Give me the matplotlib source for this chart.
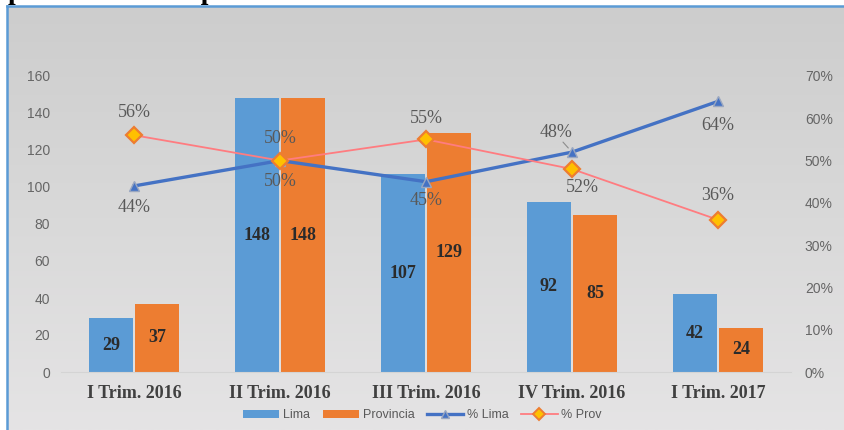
import matplotlib
matplotlib.use('Agg')
import matplotlib.pyplot as plt
import numpy as np
from matplotlib.patches import Patch
from matplotlib.lines import Line2D
from matplotlib.colors import LinearSegmentedColormap

# ---------------- data ----------------
categories = ['I Trim. 2016', 'II Trim. 2016', 'III Trim. 2016', 'IV Trim. 2016', 'I Trim. 2017']
lima = [29, 148, 107, 92, 42]
provincia = [37, 148, 129, 85, 24]
pct_lima = [0.44, 0.50, 0.45, 0.52, 0.64]
pct_prov = [0.56, 0.50, 0.55, 0.48, 0.36]
pct_lima_labels = ['44%', '50%', '45%', '52%', '64%']
pct_prov_labels = ['56%', '50%', '55%', '48%', '36%']
left_ticks = [0, 20, 40, 60, 80, 100, 120, 140, 160]
right_ticks = [0.0, 0.1, 0.2, 0.3, 0.4, 0.5, 0.6, 0.7]
right_tick_labels = ['0%', '10%', '20%', '30%', '40%', '50%', '60%', '70%']
legend_labels = ['Lima', 'Provincia', '% Lima', '% Prov']
title = 'procedencia del proceso de selección'

# ---------------- style ----------------
W, H = 845, 430
C_BLUE = '#5b9bd5'
C_ORANGE = '#ed7d31'
C_LLINE = '#4472c4'
C_PLINE = '#ff7c80'
SERIF = ['Liberation Serif', 'DejaVu Serif']
SANS = ['Liberation Sans', 'DejaVu Sans']

fig = plt.figure(figsize=(W / 100, H / 100), dpi=100)
fig.patch.set_facecolor('white')

# background panel with gradient and blue border
bg = fig.add_axes([7 / W, 0, 1 - 7 / W, (H - 6) / H], zorder=0)
grad = np.linspace(0, 1, 256).reshape(-1, 1)
cmap = LinearSegmentedColormap.from_list('bg', ['#cdcdcd', '#d9d9d9', '#e5e4e5'])
bg.imshow(grad, aspect='auto', cmap=cmap, extent=[0, 1, 0, 1], origin='upper')
bg.set_xlim(0, 1)
bg.set_ylim(0, 1)
bg.set_xticks([])
bg.set_yticks([])
for s in ['right', 'bottom']:
    bg.spines[s].set_visible(False)
for s in ['left', 'top']:
    bg.spines[s].set_color('#5b9bd5')
    bg.spines[s].set_linewidth(1.8)

# title, cut off at the top edge as in the reference
fig.text(8 / W, 1 + 1.2 / H, title, family=SERIF, fontweight='bold', fontsize=20,
         va='baseline', ha='left', color='black', zorder=5)

# main axes
ax = fig.add_axes([61 / W, 58 / H, 730 / W, 296 / H], zorder=1)
ax.patch.set_alpha(0)
x = np.arange(len(categories))
bw, off = 0.30, 0.158
ax.bar(x - off, lima, bw, color=C_BLUE, zorder=2)
ax.bar(x + off, provincia, bw, color=C_ORANGE, zorder=2)
for xi, v in zip(x - off, lima):
    ax.text(xi, v / 2, str(v), ha='center', va='center', family=SERIF,
            fontweight='bold', fontsize=13, color='#2b2b2b', zorder=3)
for xi, v in zip(x + off, provincia):
    ax.text(xi, v / 2, str(v), ha='center', va='center', family=SERIF,
            fontweight='bold', fontsize=13, color='#2b2b2b', zorder=3)

ax.set_xlim(-0.5, 4.5)
ax.set_ylim(0, 160)
ax.set_yticks(left_ticks)
ax.set_yticklabels([str(t) for t in left_ticks], family=SANS, fontsize=10, color='#666666')
ax.set_xticks(x)
ax.set_xticklabels(categories, family=SERIF, fontweight='bold', fontsize=13, color='#404040')
ax.tick_params(axis='y', length=0, pad=8)
ax.tick_params(axis='x', length=0, pad=9)
for s in ['left', 'right', 'top']:
    ax.spines[s].set_visible(False)
ax.spines['bottom'].set_color('#d4d4d4')

# secondary axis with lines
ax2 = ax.twinx()
ax2.set_zorder(2)
ax2.patch.set_alpha(0)
ax2.set_ylim(0, 0.7)
ax2.set_yticks(right_ticks)
ax2.set_yticklabels(right_tick_labels, family=SANS, fontsize=10, color='#666666')
ax2.tick_params(axis='y', length=0, pad=10)
for s in ax2.spines.values():
    s.set_visible(False)

ax2.plot(x, pct_lima, color=C_LLINE, lw=2.4, marker='^', ms=7,
         mfc=C_LLINE, mec='#9aa7c0', mew=1.0, zorder=3)
ax2.plot(x, pct_prov, color=C_PLINE, lw=1.3, marker='D', ms=8,
         mfc='#ffc000', mec=C_ORANGE, mew=1.6, zorder=4)

prov_off = [(0, 23), (0, 22), (0, 21), (-16, 37), (0, 24)]
lima_off = [(0, -22), (0, -21), (0, -19), (10, -35), (0, -24)]
for xi, v, lab, (dx, dy) in zip(x, pct_prov, pct_prov_labels, prov_off):
    ax2.annotate(lab, (xi, v), xytext=(dx, dy), textcoords='offset pixels',
                 ha='center', va='center', family=SERIF, fontsize=13, color='#595959', zorder=5)
for xi, v, lab, (dx, dy) in zip(x, pct_lima, pct_lima_labels, lima_off):
    ax2.annotate(lab, (xi, v), xytext=(dx, dy), textcoords='offset pixels',
                 ha='center', va='center', family=SERIF, fontsize=13, color='#595959', zorder=5)
# small leader line from the 48% label towards the Lima marker (as in the reference)
ax2.annotate('', xy=(x[3], pct_lima[3]), xytext=(-9, 10), textcoords='offset pixels',
             arrowprops=dict(arrowstyle='-', color='#8c8c8c', lw=0.8, shrinkA=0, shrinkB=4))

# legend
handles = [
    Patch(facecolor=C_BLUE, edgecolor='none'),
    Patch(facecolor=C_ORANGE, edgecolor='none'),
    Line2D([0], [0], color=C_LLINE, lw=2.4, marker='^', ms=6, mfc=C_LLINE, mec='#9aa7c0'),
    Line2D([0], [0], color=C_PLINE, lw=1.3, marker='D', ms=6, mfc='#ffc000', mec=C_ORANGE, mew=1.4),
]
leg = fig.legend(handles, legend_labels, loc='center', bbox_to_anchor=(0.5, 15 / H),
                 ncol=4, frameon=False, handlelength=2.9, handleheight=0.6,
                 handletextpad=0.3, columnspacing=1.0,
                 prop={'family': SANS, 'size': 9})
for t in leg.get_texts():
    t.set_color('#595959')

fig.savefig('out.png', dpi=100)
